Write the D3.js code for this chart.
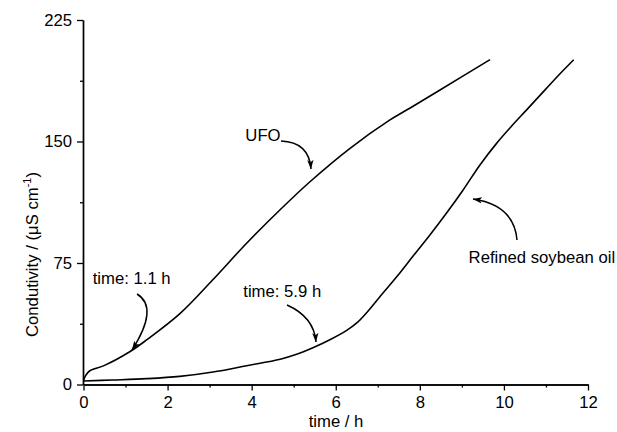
<!DOCTYPE html>
<html>
<head>
<meta charset="utf-8">
<script src="https://cdn.jsdelivr.net/npm/d3@7/dist/d3.min.js"></script>
<style>
  body { margin: 0; background: #fff; }
  svg { display: block; }
  text { font-family: "Liberation Sans", Arial, sans-serif; fill: #000; }
</style>
</head>
<body>
<svg id="chart" width="617" height="432"></svg>
<script>
// ---- data ----
const ufoTime = [0, 0.05, 0.15, 0.5, 1.1, 1.5, 2.3, 3.07, 3.88, 4.67, 5.38, 6.34, 7.29, 7.77, 8.48, 9.67];
const ufoCond = [2.5, 5.5, 8.5, 11.8, 20.2, 27.5, 43.9, 64.5, 87.2, 107.7, 125.0, 145.8, 163.3, 170.7, 181.8, 200.5];
const soyTime = [0, 0.7, 1.5, 2.29, 3.08, 3.88, 4.68, 5.07, 5.47, 5.86, 6.26, 6.5, 6.74, 7.05, 7.45, 7.84, 8.24, 8.64, 9.03, 9.43, 9.83, 10.2, 10.54, 11.0, 11.34, 11.66];
const soyCond = [2.2, 2.8, 3.6, 5.0, 7.7, 11.6, 15.6, 18.6, 22.8, 27.6, 33.4, 38.0, 44.5, 54.2, 66.5, 79.3, 92.3, 106.0, 120.1, 135.5, 149.0, 160.0, 169.5, 182.5, 192.0, 200.5];
const xTicks = [0, 2, 4, 6, 8, 10, 12];
const xMinor = [1, 3, 5, 7, 9, 11];
const yTicks = [0, 75, 150, 225];
const yMinor = [37.5, 112.5, 187.5];
const labels = [
  { text: "UFO", t: 3.85, v: 150.3 },
  { text: "time: 1.1 h", t: 0.22, v: 62 },
  { text: "time: 5.9 h", t: 3.8, v: 54 },
  { text: "Refined soybean oil", t: 9.16, v: 75.3 }
];

const svg = d3.select("#chart");
const FS = 16.7;
const x = d3.scaleLinear().domain([0, 12]).range([83.5, 588]);
const y = d3.scaleLinear().domain([0, 225]).range([384.5, 20]);

// axes
svg.append("g").attr("transform", "translate(0,384.5)")
  .call(d3.axisBottom(x).tickValues(xTicks).tickSize(6).tickSizeOuter(0).tickPadding(6).tickFormat(d3.format("d")));
svg.append("g").attr("transform", "translate(0,384.5)")
  .call(d3.axisBottom(x).tickValues(xMinor).tickSize(3).tickSizeOuter(0).tickFormat(""));
svg.append("g").attr("transform", "translate(83,0)")
  .call(d3.axisLeft(y).tickValues(yTicks).tickSize(6).tickSizeOuter(0).tickPadding(5).tickFormat(d3.format("d")));
svg.append("g").attr("transform", "translate(83,0)")
  .call(d3.axisLeft(y).tickValues(yMinor).tickSize(3).tickSizeOuter(0).tickFormat(""));

svg.selectAll(".domain").attr("stroke", "#000").attr("stroke-width", 1.4);
svg.selectAll(".tick line").attr("stroke", "#000").attr("stroke-width", 1.3);
svg.selectAll(".tick text").style("font-family", "Liberation Sans, Arial, sans-serif")
  .style("font-size", FS + "px").attr("fill", "#000");

// axis titles
svg.append("text").attr("x", 336).attr("y", 427).attr("text-anchor", "middle")
  .style("font-size", FS + "px").text("time / h");
const yt = svg.append("text").attr("transform", "translate(38,337) rotate(-90)")
  .style("font-size", FS + "px");
yt.append("tspan").text("Condutivity / (\u03BCS cm");
yt.append("tspan").attr("dy", -7).style("font-size", "11px").text("-1");
yt.append("tspan").attr("dy", 7).text(")");

// curves
const line = d3.line().x(d => x(d[0])).y(d => y(d[1])).curve(d3.curveCatmullRom.alpha(0.5));
const ufo = ufoTime.map((t, i) => [t, ufoCond[i]]);
const soy = soyTime.map((t, i) => [t, soyCond[i]]);
[ufo, soy].forEach(data => {
  svg.append("path").datum(data).attr("d", line)
    .attr("fill", "none").attr("stroke", "#000").attr("stroke-width", 1.6);
});

// labels
labels.forEach(l => {
  svg.append("text").attr("x", x(l.t)).attr("y", y(l.v))
    .style("font-size", FS + "px").text(l.text);
});

// arrows
svg.append("defs").append("marker").attr("id", "ah")
  .attr("viewBox", "0 0 10 10").attr("refX", 10).attr("refY", 5)
  .attr("markerWidth", 9).attr("markerHeight", 9).attr("markerUnits", "userSpaceOnUse")
  .attr("orient", "auto")
  .append("path").attr("d", "M0,1.5 L10,5 L0,8.5 L2.5,5 Z").attr("fill", "#000");

const arrows = [
  "M281,141 Q309,142 311,169",
  "M137,294 C152,303 150,322 132,350",
  "M287,305 Q314,317 316,342",
  "M517,240 Q514,205 473,199"
];
arrows.forEach(d => {
  svg.append("path").attr("d", d).attr("fill", "none").attr("stroke", "#000")
    .attr("stroke-width", 1.5).attr("marker-end", "url(#ah)");
});
</script>
</body>
</html>
